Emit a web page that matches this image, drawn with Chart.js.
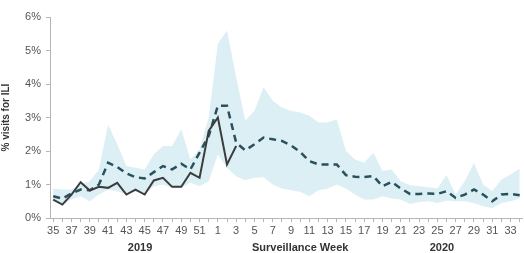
<!DOCTYPE html>
<html>
<head>
<meta charset="utf-8">
<script src="https://cdn.jsdelivr.net/npm/chart.js@4/dist/chart.umd.min.js"></script>
<style>
  html, body { margin: 0; padding: 0; background: #fff; }
  #wrap { width: 524px; height: 253px; }
</style>
</head>
<body>
<div id="wrap"><canvas id="iliChart"></canvas></div>
<script>
// surveillance weeks, 2019 wk 35 -> 2020 wk 34
const weeks = ['35','36','37','38','39','40','41','42','43','44','45','46','47','48','49','50','51','52',
               '1','2','3','4','5','6','7','8','9','10','11','12','13','14','15','16','17','18','19','20',
               '21','22','23','24','25','26','27','28','29','30','31','32','33','34'];

// current season (% visits for ILI), stops at week 3
const current = [0.55, 0.4, 0.7, 1.07, 0.82, 0.93, 0.9, 1.05, 0.7, 0.85, 0.7, 1.12, 1.2, 0.93, 0.93, 1.35, 1.2, 2.6, 3.0, 1.6, 2.15];

// average of previous seasons
const average = [0.65, 0.58, 0.73, 0.85, 0.83, 1.0, 1.65, 1.52, 1.33, 1.22, 1.18, 1.37, 1.55, 1.45, 1.62, 1.45, 1.95, 2.45,
                 3.35, 3.35, 2.25, 2.02, 2.2, 2.4, 2.35, 2.3, 2.17, 1.97, 1.7, 1.6, 1.6, 1.6, 1.28, 1.23, 1.22, 1.25,
                 0.95, 1.08, 0.88, 0.72, 0.72, 0.73, 0.72, 0.8, 0.6, 0.7, 0.85, 0.7, 0.5, 0.7, 0.72, 0.68];

// range of previous seasons (band)
const rangeHigh = [0.88, 0.85, 0.85, 1.0, 1.1, 1.45, 2.78, 2.2, 1.55, 1.5, 1.45, 1.9, 2.15, 2.15, 2.65, 1.75, 2.05, 3.0,
                   5.2, 5.6, 4.2, 2.9, 3.2, 3.9, 3.5, 3.3, 3.2, 3.15, 3.05, 2.85, 2.85, 2.95, 2.0, 1.75, 1.65, 1.95,
                   1.4, 1.45, 1.1, 0.98, 0.95, 0.92, 0.88, 1.28, 0.7, 1.1, 1.64, 1.0, 0.8, 1.15, 1.3, 1.47];
const rangeLow = [0.5, 0.42, 0.55, 0.65, 0.5, 0.7, 0.85, 0.8, 0.7, 0.8, 0.72, 0.95, 1.0, 0.9, 0.9, 1.05, 0.95, 1.1,
                  1.9, 1.5, 1.25, 1.13, 1.2, 1.22, 1.0, 0.88, 0.83, 0.78, 0.65, 0.83, 0.88, 1.0, 0.88, 0.7, 0.55, 0.55,
                  0.65, 0.58, 0.55, 0.42, 0.48, 0.5, 0.45, 0.52, 0.5, 0.5, 0.45, 0.35, 0.3, 0.45, 0.5, 0.58];

const yTicks = [0, 1, 2, 3, 4, 5, 6];

const toXY = (arr) => arr.map((v, i) => ({x: i, y: v}));

const bottomLabels = {
    id: 'bottomLabels',
    afterDraw(chart) {
        const ctx = chart.ctx;
        const x = chart.scales.x;
        ctx.save();
        ctx.fillStyle = '#333';
        ctx.font = 'bold 11px "Liberation Sans", Arial, sans-serif';
        ctx.textAlign = 'center';
        ctx.textBaseline = 'middle';
        ctx.fillText('2019', x.getPixelForValue(9.5), 248);
        ctx.fillText('Surveillance Week', x.getPixelForValue(27), 248);
        ctx.fillText('2020', x.getPixelForValue(42.5), 248);
        ctx.restore();
    }
};

new Chart(document.getElementById('iliChart'), {
    type: 'line',
    data: {
        datasets: [{
            label: 'Current',
            data: toXY(current),
            borderColor: '#3c3c3c',
            borderWidth: 2,
            pointRadius: 0,
            tension: 0,
            fill: false
        }, {
            label: 'Average',
            data: toXY(average),
            borderColor: '#29505b',
            borderWidth: 2.5,
            borderDash: [7, 5],
            pointRadius: 0,
            tension: 0,
            fill: false
        }, {
            label: 'High',
            data: toXY(rangeHigh),
            borderWidth: 0,
            borderColor: 'rgba(0,0,0,0)',
            backgroundColor: '#dbeff5',
            pointRadius: 0,
            tension: 0,
            fill: '+1'
        }, {
            label: 'Low',
            data: toXY(rangeLow),
            borderWidth: 0,
            borderColor: 'rgba(0,0,0,0)',
            pointRadius: 0,
            tension: 0,
            fill: false
        }]
    },
    options: {
        responsive: true,
        maintainAspectRatio: false,
        animation: false,
        layout: {
            padding: {top: 17, right: 2, left: 0, bottom: 0}
        },
        scales: {
            x: {
                type: 'linear',
                min: -0.35,
                max: 51.25,
                grid: {
                    display: true,
                    drawOnChartArea: false,
                    tickLength: 4,
                    color: '#b5b5b5'
                },
                border: {color: '#b5b5b5'},
                ticks: {
                    stepSize: 1,
                    includeBounds: false,
                    autoSkip: false,
                    maxRotation: 0,
                    padding: 2,
                    color: '#555',
                    font: {size: 11, family: '"Liberation Sans", Arial, sans-serif'},
                    callback: (v) => (Number.isInteger(v) && v % 2 === 0) ? weeks[v] : ''
                },
                afterFit: (scale) => { scale.height = 35; }
            },
            y: {
                min: 0,
                max: 6,
                grid: {
                    display: true,
                    drawOnChartArea: false,
                    tickLength: 4,
                    color: '#b5b5b5'
                },
                border: {color: '#b5b5b5'},
                afterBuildTicks: (scale) => { scale.ticks = yTicks.map(v => ({value: v})); },
                ticks: {
                    padding: 5,
                    color: '#555',
                    font: {size: 11, family: '"Liberation Sans", Arial, sans-serif'},
                    callback: (v) => v + '%'
                },
                title: {
                    display: true,
                    text: '% visits for ILI',
                    color: '#333',
                    padding: {top: 0, bottom: 4},
                    font: {size: 10, weight: 'bold', family: '"Liberation Sans", Arial, sans-serif'}
                },
                afterFit: (scale) => { scale.width = 50; }
            }
        },
        plugins: {
            legend: {display: false},
            tooltip: {enabled: false}
        }
    },
    plugins: [bottomLabels]
});
</script>
</body>
</html>
